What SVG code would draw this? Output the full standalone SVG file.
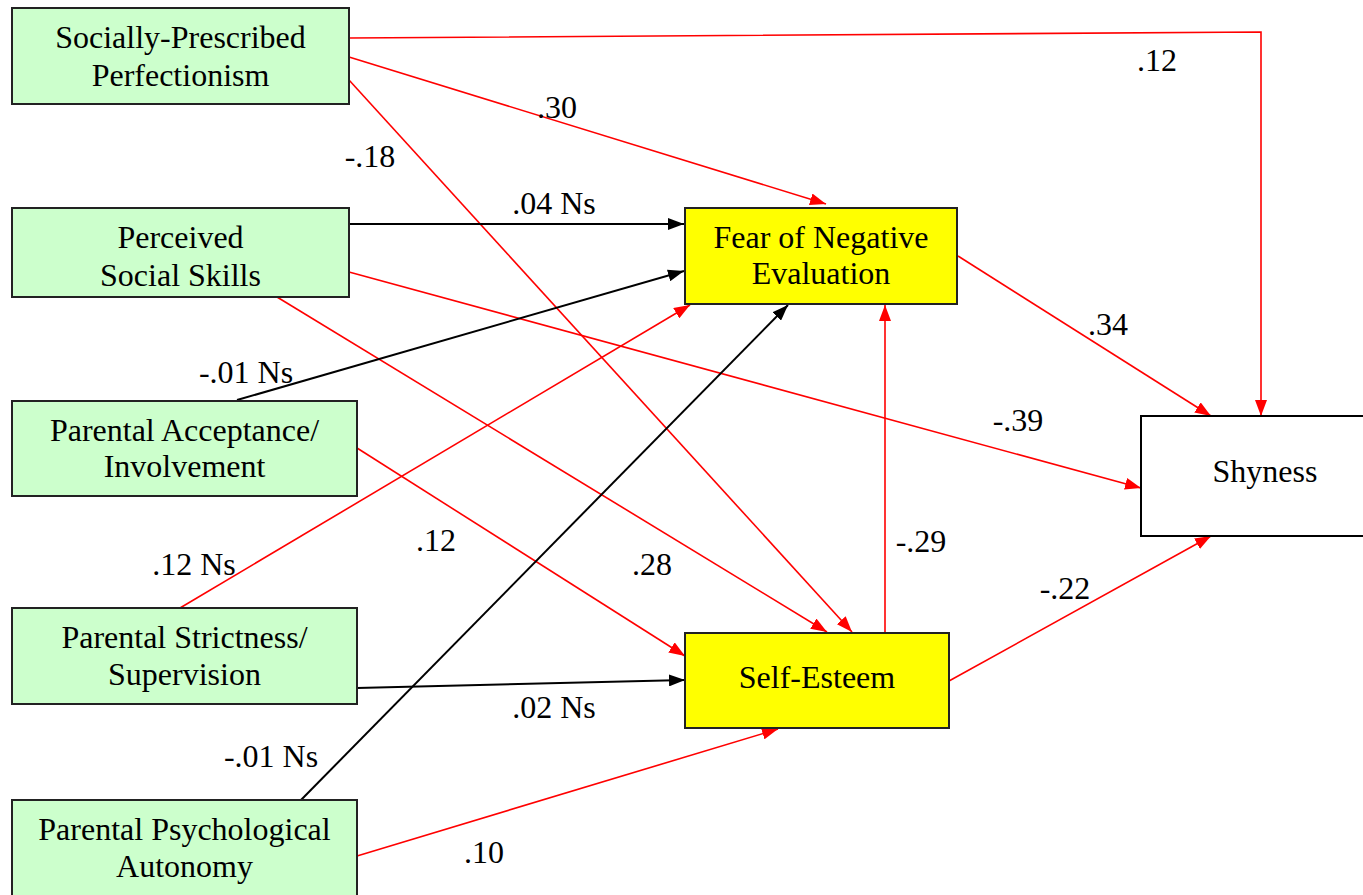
<svg xmlns="http://www.w3.org/2000/svg" width="1363" height="895" viewBox="0 0 1363 895">
<style>
.g{fill:#ccffcc;stroke:#222;stroke-width:2}
.y{fill:#ffff00;stroke:#222;stroke-width:2}
.w{fill:#ffffff;stroke:#000;stroke-width:2}
text{font-family:"Liberation Serif","Times New Roman",serif;font-size:32px;fill:#000;text-anchor:middle}
.r{stroke:#ff0000;stroke-width:1.6;fill:none;marker-end:url(#ar)}
.k{stroke:#000;stroke-width:2;fill:none;marker-end:url(#ak)}
</style>
<defs>
<marker id="ar" markerUnits="userSpaceOnUse" viewBox="0 0 16 12" refX="16" refY="6" markerWidth="16" markerHeight="12" orient="auto"><path d="M0,0 L16,6 L0,12 z" fill="#ff0000"/></marker>
<marker id="ak" markerUnits="userSpaceOnUse" viewBox="0 0 16 12" refX="16" refY="6" markerWidth="16" markerHeight="12" orient="auto"><path d="M0,0 L16,6 L0,12 z" fill="#000"/></marker>
</defs>
<rect width="1363" height="895" fill="#fff"/>
<g id="connectors">
<polyline class="r" points="349,38 1261,32 1261,416"/>
<line class="r" x1="349" y1="57" x2="826" y2="204"/>
<line class="r" x1="349" y1="80" x2="852" y2="632"/>
<line class="k" x1="349" y1="224" x2="684" y2="224"/>
<line class="r" x1="349" y1="272" x2="1141" y2="488"/>
<line class="r" x1="277" y1="297" x2="827" y2="632"/>
<line class="k" x1="237" y1="400" x2="684" y2="271"/>
<line class="r" x1="357" y1="448" x2="685" y2="656"/>
<line class="r" x1="180" y1="608" x2="690" y2="305"/>
<line class="k" x1="357" y1="688" x2="685" y2="680"/>
<line class="k" x1="301" y1="800" x2="788" y2="305"/>
<line class="r" x1="357" y1="856" x2="778" y2="729"/>
<line class="r" x1="958" y1="256" x2="1211" y2="416"/>
<line class="r" x1="885" y1="632" x2="885" y2="305"/>
<line class="r" x1="949" y1="681" x2="1211" y2="536"/>
<text x="1157" y="71">.12</text>
<text x="557" y="118">.30</text>
<text x="370" y="167">-.18</text>
<text x="554" y="214">.04 Ns</text>
<text x="246" y="383">-.01 Ns</text>
<text x="1018" y="431">-.39</text>
<text x="1108" y="335">.34</text>
<text x="436" y="551">.12</text>
<text x="194" y="575">.12 Ns</text>
<text x="652" y="575">.28</text>
<text x="921" y="552">-.29</text>
<text x="1065" y="599">-.22</text>
<text x="554" y="718">.02 Ns</text>
<text x="271" y="767">-.01 Ns</text>
<text x="484" y="863">.10</text>
</g>
<g id="spp"><rect class="g" x="12" y="8" width="337" height="96"/><text x="180.5" y="48">Socially-Prescribed</text><text x="180.5" y="86">Perfectionism</text></g>
<g id="pss"><rect class="g" x="12" y="208" width="337" height="89"/><text x="180.5" y="248">Perceived</text><text x="180.5" y="286">Social Skills</text></g>
<g id="pai"><rect class="g" x="12" y="401" width="345" height="95"/><text x="184.5" y="441">Parental Acceptance/</text><text x="184.5" y="477">Involvement</text></g>
<g id="pss2"><rect class="g" x="12" y="608" width="345" height="96"/><text x="184.5" y="648">Parental Strictness/</text><text x="184.5" y="685">Supervision</text></g>
<g id="ppa"><rect class="g" x="12" y="800" width="345" height="110"/><text x="184.5" y="840">Parental Psychological</text><text x="184.5" y="877">Autonomy</text></g>
<g id="fne"><rect class="y" x="685" y="208" width="272" height="96"/><text x="821" y="248">Fear of Negative</text><text x="821" y="284">Evaluation</text></g>
<g id="se"><rect class="y" x="685" y="633" width="264" height="95"/><text x="817" y="688">Self-Esteem</text></g>
<g id="shy"><rect class="w" x="1141" y="416" width="250" height="120"/><text x="1265" y="482">Shyness</text></g>
</svg>
